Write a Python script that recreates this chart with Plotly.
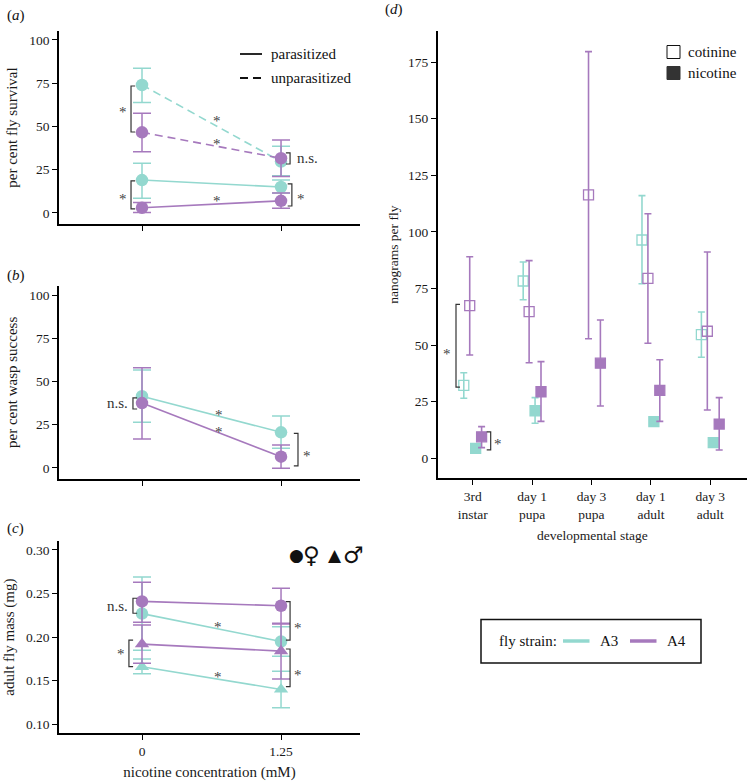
import plotly.graph_objects as go

W, H = 747, 782
CYAN = "#93d8cf"
PURPLE = "#a679bd"
INK = "#333333"
FONT = "Liberation Serif"

# ── Data ─────────────────────────────────────────────────────────
conc_labels = ["0", "1.25"]

# (a) per cent fly survival: mean, lower, upper
surv_a3_par = [19.0, 15.0]
surv_a3_par_lo = [8.5, 11.5]
surv_a3_par_hi = [28.7, 19.0]
surv_a4_par = [3.0, 7.0]
surv_a4_par_lo = [0.2, 2.7]
surv_a4_par_hi = [6.0, 11.5]
surv_a3_unpar = [74.0, 29.7]
surv_a3_unpar_lo = [63.8, 21.5]
surv_a3_unpar_hi = [83.6, 38.5]
surv_a4_unpar = [46.6, 31.6]
surv_a4_unpar_lo = [35.4, 21.0]
surv_a4_unpar_hi = [57.6, 42.2]

# (b) per cent wasp success
wasp_a3 = [41.5, 20.6]
wasp_a3_lo = [26.4, 11.4]
wasp_a3_hi = [56.6, 30.0]
wasp_a4 = [37.5, 6.5]
wasp_a4_lo = [16.8, -0.2]
wasp_a4_hi = [58.0, 13.3]

# (c) adult fly mass (mg)
mass_a3_f = [0.227, 0.195]
mass_a3_f_lo = [0.185, 0.178]
mass_a3_f_hi = [0.269, 0.212]
mass_a4_f = [0.241, 0.236]
mass_a4_f_lo = [0.217, 0.215]
mass_a4_f_hi = [0.263, 0.256]
mass_a3_m = [0.166, 0.140]
mass_a3_m_lo = [0.158, 0.119]
mass_a3_m_hi = [0.175, 0.161]
mass_a4_m = [0.192, 0.184]
mass_a4_m_lo = [0.170, 0.152]
mass_a4_m_hi = [0.214, 0.216]

# (d) nanograms per fly
stages = ["3rd<br>instar", "day 1<br>pupa", "day 3<br>pupa", "day 1<br>adult", "day 3<br>adult"]
cot_a3 = [32.2, 78.3, None, 96.4, 54.6]
cot_a3_lo = [26.5, 70.0, None, 77.1, 44.6]
cot_a3_hi = [37.8, 86.7, None, 116.0, 64.6]
cot_a4 = [67.4, 64.8, 116.3, 79.5, 56.1]
cot_a4_lo = [45.6, 42.2, 52.8, 50.8, 21.3]
cot_a4_hi = [89.0, 87.3, 179.6, 108.0, 91.1]
nic_a3 = [4.4, 21.0, None, 16.2, 6.9]
nic_a3_lo = [3.6, 15.5, None, 15.2, 6.1]
nic_a3_hi = [5.2, 26.8, None, 17.2, 7.7]
nic_a4 = [9.5, 29.4, 42.0, 30.0, 15.1]
nic_a4_lo = [4.7, 16.3, 23.1, 16.3, 3.7]
nic_a4_hi = [14.0, 42.7, 61.1, 43.5, 26.8]


def err(v, lo, hi, color, width, thickness=1.5):
    up = [None if a is None else h - a for a, h in zip(v, hi)]
    dn = [None if a is None else a - l for a, l in zip(v, lo)]
    return dict(type="data", symmetric=False, array=up, arrayminus=dn,
                color=color, thickness=thickness, width=width)


fig = go.Figure()
conc_pos = list(range(len(conc_labels)))


def add_line(xa, ya, v, lo, hi, color, dash="solid", symbol="circle"):
    fig.add_trace(go.Scatter(
        x=conc_pos, y=v, xaxis=xa, yaxis=ya, mode="lines+markers",
        line=dict(color=color, width=1.6, dash=dash),
        marker=dict(color=color, size=12.5, symbol=symbol),
        error_y=err(v, lo, hi, color, 9), showlegend=False,
    ))


# (a)
add_line("x", "y", surv_a3_unpar, surv_a3_unpar_lo, surv_a3_unpar_hi, CYAN, "8px,5px")
add_line("x", "y", surv_a3_par, surv_a3_par_lo, surv_a3_par_hi, CYAN)
add_line("x", "y", surv_a4_unpar, surv_a4_unpar_lo, surv_a4_unpar_hi, PURPLE, "8px,5px")
add_line("x", "y", surv_a4_par, surv_a4_par_lo, surv_a4_par_hi, PURPLE)
# (b)
add_line("x2", "y2", wasp_a3, wasp_a3_lo, wasp_a3_hi, CYAN)
add_line("x2", "y2", wasp_a4, wasp_a4_lo, wasp_a4_hi, PURPLE)
# (c)
add_line("x3", "y3", mass_a3_f, mass_a3_f_lo, mass_a3_f_hi, CYAN)
add_line("x3", "y3", mass_a3_m, mass_a3_m_lo, mass_a3_m_hi, CYAN, symbol="triangle-up")
add_line("x3", "y3", mass_a4_f, mass_a4_f_lo, mass_a4_f_hi, PURPLE)
add_line("x3", "y3", mass_a4_m, mass_a4_m_lo, mass_a4_m_hi, PURPLE, symbol="triangle-up")

# (d) dodged points
stage_pos = list(range(len(stages)))
dodge = [(-0.15, cot_a3, cot_a3_lo, cot_a3_hi, CYAN, "square-open"),
         (-0.05, cot_a4, cot_a4_lo, cot_a4_hi, PURPLE, "square-open"),
         (0.05, nic_a3, nic_a3_lo, nic_a3_hi, CYAN, "square"),
         (0.15, nic_a4, nic_a4_lo, nic_a4_hi, PURPLE, "square")]
for off, v, lo, hi, color, sym in dodge:
    fig.add_trace(go.Scatter(
        x=[p + off for p in stage_pos], y=v, xaxis="x4", yaxis="y4", mode="markers",
        marker=dict(color=color, size=10, symbol=sym, line=dict(color=color, width=1.3)),
        error_y=err(v, lo, hi, color, 3.5, 1.6), showlegend=False,
    ))

# ── Annotations ──────────────────────────────────────────────────
shapes, notes = [], []


def bracket(xa, ya, x, y0, y1, tick, side):
    path = f"M {x + side * tick},{y0} L {x},{y0} L {x},{y1} L {x + side * tick},{y1}"
    shapes.append(dict(type="path", xref=xa, yref=ya, path=path,
                       line=dict(color=INK, width=1.2)))


def note(text, xa, ya, x, y, size=14, xanchor="center", yshift=0, family=FONT, color=INK):
    notes.append(dict(text=text, xref=xa, yref=ya, x=x, y=y, showarrow=False,
                      xanchor=xanchor, yanchor="middle", yshift=yshift,
                      font=dict(family=family, size=size, color=color)))


def star(xa, ya, x, y):
    note("*", xa, ya, x, y, size=15, yshift=-4, color="#444")


# (a)
bracket("x", "y", -0.079, 73.4, 46.8, 0.03, 1)
star("x", "y", -0.137, 60.5)
bracket("x", "y", -0.079, 18.5, 2.3, 0.03, 1)
star("x", "y", -0.137, 10.5)
star("x", "y", 0.54, 55.5)
star("x", "y", 0.54, 42.2)
star("x", "y", 0.54, 9.2)
bracket("x", "y", 1.065, 34.7, 28.3, 0.03, -1)
note("n.s.", "x", "y", 1.1, 31.5, size=15, xanchor="left")
bracket("x", "y", 1.078, 16.8, 4.0, 0.03, -1)
star("x", "y", 1.144, 10.5)
# (b)
bracket("x2", "y2", -0.065, 40.5, 34.1, 0.03, 1)
note("n.s.", "x2", "y2", -0.086, 37.5, size=15, xanchor="right")
star("x2", "y2", 0.554, 33.1)
star("x2", "y2", 0.554, 23.0)
bracket("x2", "y2", 1.122, 20.0, 1.2, 0.03, -1)
star("x2", "y2", 1.187, 9.2)
# (c)
bracket("x3", "y3", -0.065, 0.2446, 0.2274, 0.03, 1)
note("n.s.", "x3", "y3", -0.086, 0.236, size=15, xanchor="right")
bracket("x3", "y3", -0.094, 0.1967, 0.1661, 0.03, 1)
star("x3", "y3", -0.151, 0.185)
star("x3", "y3", 0.547, 0.2159)
star("x3", "y3", 0.547, 0.159)
bracket("x3", "y3", 1.065, 0.2407, 0.1967, 0.03, -1)
star("x3", "y3", 1.122, 0.215)
bracket("x3", "y3", 1.065, 0.1864, 0.1432, 0.03, -1)
star("x3", "y3", 1.122, 0.1615)
# (d)
bracket("x4", "y4", -0.281, 68.0, 31.4, 0.067, 1)
star("x4", "y4", -0.438, 47.8)
bracket("x4", "y4", 0.303, 11.7, 3.7, 0.067, -1)
star("x4", "y4", 0.421, 8.1)


def pxx(x):
    return x / W


def pxy(y):
    return 1 - y / H


# panel labels
for lab, x, y in [("a", 5, 15), ("b", 5, 275), ("c", 5, 528), ("d", 383, 9)]:
    note(f"(<i>{lab}</i>)", "paper", "paper", pxx(x), pxy(y), size=15, xanchor="left", color="#111")

# (a) line-type legend
shapes.append(dict(type="line", xref="paper", yref="paper", x0=pxx(240), x1=pxx(262),
                   y0=pxy(54), y1=pxy(54), line=dict(color="#111", width=1.8)))
shapes.append(dict(type="line", xref="paper", yref="paper", x0=pxx(240), x1=pxx(262),
                   y0=pxy(78), y1=pxy(78), line=dict(color="#111", width=1.8, dash="8px,5px")))
note("parasitized", "paper", "paper", pxx(269), pxy(54), size=15, xanchor="left", color="#111")
note("unparasitized", "paper", "paper", pxx(269), pxy(78), size=15, xanchor="left", color="#111")

# (c) sex symbols
for ch, x, size in [("●", 296, 17), ("♀", 311.5, 23), ("▲", 335, 17), ("♂", 353.5, 23)]:
    note(ch, "paper", "paper", pxx(x), pxy(555), size=size, family="DejaVu Sans", color="#111")

# (d) compound legend
shapes.append(dict(type="rect", xref="paper", yref="paper", x0=pxx(667), x1=pxx(680),
                   y0=pxy(45.5), y1=pxy(58.5), line=dict(color="#111", width=1), fillcolor="white"))
shapes.append(dict(type="rect", xref="paper", yref="paper", x0=pxx(667), x1=pxx(680),
                   y0=pxy(66.5), y1=pxy(79.5), line=dict(color="#333", width=1), fillcolor="#333"))
note("cotinine", "paper", "paper", pxx(686), pxy(52), size=15, xanchor="left", color="#111")
note("nicotine", "paper", "paper", pxx(686), pxy(73), size=15, xanchor="left", color="#111")

# fly strain legend box
shapes.append(dict(type="rect", xref="paper", yref="paper", x0=pxx(481), x1=pxx(701),
                   y0=pxy(619.5), y1=pxy(663), line=dict(color="#111", width=1.5)))
note("fly strain:", "paper", "paper", pxx(497), pxy(641), size=15, xanchor="left", color="#111")
for color, x0, lab in [(CYAN, 563, "A3"), (PURPLE, 630, "A4")]:
    shapes.append(dict(type="line", xref="paper", yref="paper", x0=pxx(x0), x1=pxx(x0 + 26.5),
                       y0=pxy(641), y1=pxy(641), line=dict(color=color, width=3.5)))
    note(lab, "paper", "paper", pxx(x0 + 34.5), pxy(641), size=15, xanchor="left", color="#111")

# ── Axes ─────────────────────────────────────────────────────────
base = dict(showline=True, linecolor="black", linewidth=1.6, ticks="outside", ticklen=5,
            tickwidth=1.3, tickcolor="black", showgrid=False, zeroline=False, automargin=False,
            tickfont=dict(family=FONT, size=13.5, color="#1a1a1a"))
ttl = dict(family=FONT, size=15, color="#1a1a1a")
left_dom = [pxx(59), pxx(360)]
xr = [-0.597, 1.568]

fig.update_layout(
    template="none",
    width=W, height=H, margin=dict(l=0, r=0, t=0, b=0, pad=0),
    paper_bgcolor="white", plot_bgcolor="white",
    font=dict(family=FONT, color="#1a1a1a"),
    xaxis=dict(base, domain=left_dom, anchor="y", range=xr, tickvals=conc_pos, showticklabels=False),
    yaxis=dict(base, domain=[pxy(224), pxy(31)], anchor="x", range=[-6.4, 105.2],
               tickvals=[0, 25, 50, 75, 100],
               title=dict(text="per cent fly survival", font=ttl, standoff=8)),
    xaxis2=dict(base, domain=left_dom, anchor="y2", range=xr, tickvals=conc_pos, showticklabels=False),
    yaxis2=dict(base, domain=[pxy(479), pxy(285.7)], anchor="x2", range=[-6.4, 105.4],
                tickvals=[0, 25, 50, 75, 100],
                title=dict(text="per cent wasp success", font=ttl, standoff=8)),
    xaxis3=dict(base, domain=left_dom, anchor="y3", range=xr, tickvals=conc_pos, ticktext=conc_labels,
                title=dict(text="nicotine concentration (mM)", font=ttl, standoff=8)),
    yaxis3=dict(base, domain=[pxy(733.3), pxy(541)], anchor="x3", range=[0.0897, 0.3103],
                tickvals=[0.10, 0.15, 0.20, 0.25, 0.30], tickformat=".2f",
                title=dict(text="adult fly mass (mg)", font=ttl, standoff=8)),
    xaxis4=dict(base, domain=[pxx(437.7), 1.0], anchor="y4", range=[-0.589, 4.618],
                tickvals=stage_pos, ticktext=stages,
                title=dict(text="developmental stage", font=dict(ttl, size=13.5), standoff=10)),
    yaxis4=dict(base, domain=[pxy(478.3), pxy(31)], anchor="x4", range=[-8.83, 188.7],
                tickvals=[0, 25, 50, 75, 100, 125, 150, 175],
                title=dict(text="nanograms per fly", font=dict(ttl, size=13.5), standoff=6)),
    shapes=shapes, annotations=notes,
)

# the page body has a default 8px margin; drop it so the figure fills the window
fig.write_html("out.html", config={"displayModeBar": False},
               post_script="document.body.style.margin = '0';")
